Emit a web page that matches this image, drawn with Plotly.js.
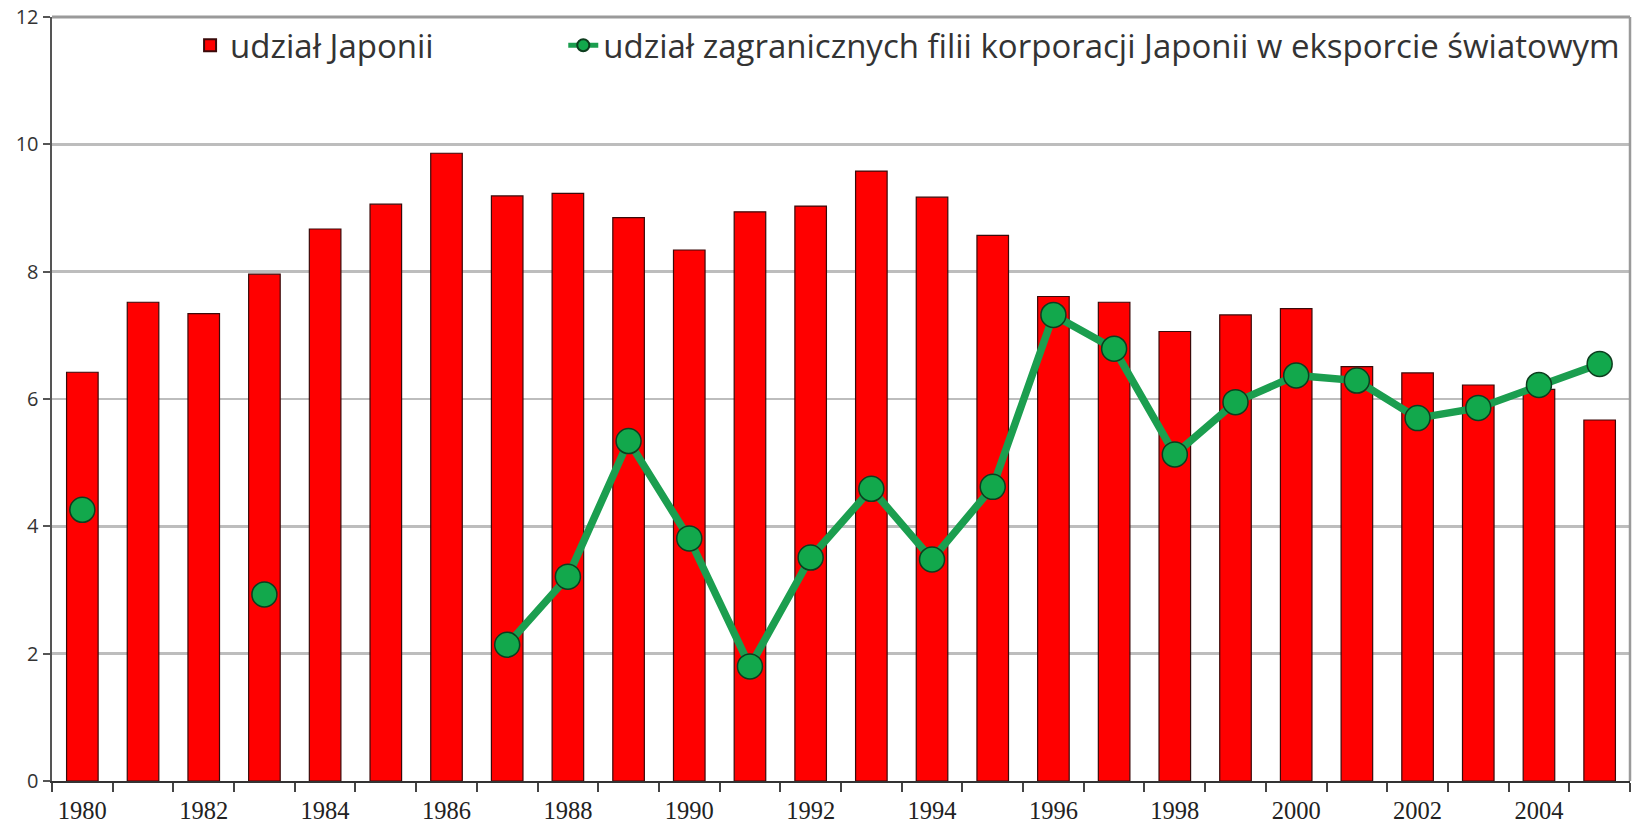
<!DOCTYPE html>
<html>
<head>
<meta charset="utf-8">
<script src="https://cdn.plot.ly/plotly-3.0.1.min.js"></script>
<style>html,body{margin:0;padding:0;background:#fff;}#chart{width:1637px;height:824px;}</style>
</head>
<body>
<div id="chart"></div>
<script>
// Data
const years = [1980,1981,1982,1983,1984,1985,1986,1987,1988,1989,1990,1991,1992,1993,1994,1995,1996,1997,1998,1999,2000,2001,2002,2003,2004,2005];
const japanShare = [6.42,7.52,7.34,7.96,8.67,9.06,9.86,9.19,9.23,8.85,8.34,8.94,9.03,9.58,9.17,8.57,7.61,7.52,7.06,7.32,7.42,6.51,6.41,6.22,6.15,5.67];
const affiliatesShare = [4.26,null,null,2.93,null,null,null,2.14,3.21,5.34,3.81,1.80,3.51,4.59,3.48,4.62,7.32,6.79,5.13,5.95,6.37,6.29,5.70,5.86,6.22,6.55];
const tickYears = [1980,1982,1984,1986,1988,1990,1992,1994,1996,1998,2000,2002,2004];
const tickLabels = ["1980","1982","1984","1986","1988","1990","1992","1994","1996","1998","2000","2002","2004"];
const seriesNames = ["udział Japonii","udział zagranicznych filii korporacji Japonii w eksporcie światowym"];

const traces = [
  {
    type: 'bar', x: years, y: japanShare, name: seriesNames[0],
    width: 0.52, legend: 'legend',
    marker: {color: '#ff0000', line: {color: '#3a0a0a', width: 1.2}},
    hoverinfo: 'x+y'
  },
  {
    type: 'scatter', mode: 'lines+markers', x: years, y: affiliatesShare, name: seriesNames[1],
    connectgaps: false, legend: 'legend2',
    line: {color: '#1b9e4f', width: 7.5},
    marker: {color: '#12a84c', size: 25, line: {color: '#0d3d1e', width: 1.5}},
    hoverinfo: 'x+y'
  }
];

const legendFont = {family: 'Open Sans, sans-serif', size: 33, color: '#333333'};

const layout = {
  width: 1637, height: 824,
  margin: {l: 52, r: 7, t: 17, b: 43},
  paper_bgcolor: '#ffffff', plot_bgcolor: '#ffffff',
  showlegend: true,
  legend: {
    orientation: 'h', x: 0.0875, xanchor: 'left', y: 0.963, yanchor: 'middle',
    bgcolor: 'rgba(0,0,0,0)', font: legendFont, itemsizing: 'constant'
  },
  legend2: {
    orientation: 'h', x: 0.324, xanchor: 'left', y: 0.963, yanchor: 'middle',
    bgcolor: 'rgba(0,0,0,0)', font: legendFont, itemsizing: 'constant'
  },
  xaxis: {
    type: 'linear', range: [1979.5, 2005.5],
    tickmode: 'array', tickvals: tickYears, ticktext: tickLabels,
    ticks: '', ticklen: 0, ticklabelstandoff: 7,
    tickfont: {family: 'Liberation Serif, Times New Roman, serif', size: 24.5, color: '#222222'},
    showgrid: false, zeroline: false,
    showline: true, linecolor: '#333333', linewidth: 2,
    minor: {tick0: 1979.5, dtick: 1, ticks: 'outside', ticklen: 9, tickwidth: 2, tickcolor: '#444444', showgrid: false},
    fixedrange: true
  },
  yaxis: {
    range: [0, 12], dtick: 2, tick0: 0,
    ticks: 'outside', ticklen: 7, tickwidth: 2, tickcolor: '#555555',
    tickfont: {family: 'Open Sans, sans-serif', size: 20, color: '#333333'},
    showgrid: true, gridcolor: '#bdbdbd', gridwidth: 2.5,
    zeroline: false,
    showline: true, linecolor: '#555555', linewidth: 2.5,
    fixedrange: true
  },
  shapes: [
    {type: 'line', xref: 'paper', yref: 'paper', x0: 0, x1: 1, y0: 1, y1: 1, line: {color: '#9a9a9a', width: 3}},
    {type: 'line', xref: 'paper', yref: 'paper', x0: 1, x1: 1, y0: 0, y1: 1, line: {color: '#9a9a9a', width: 2.5}}
  ]
};

Plotly.newPlot('chart', traces, layout, {displayModeBar: false, staticPlot: true});
</script>
</body>
</html>
